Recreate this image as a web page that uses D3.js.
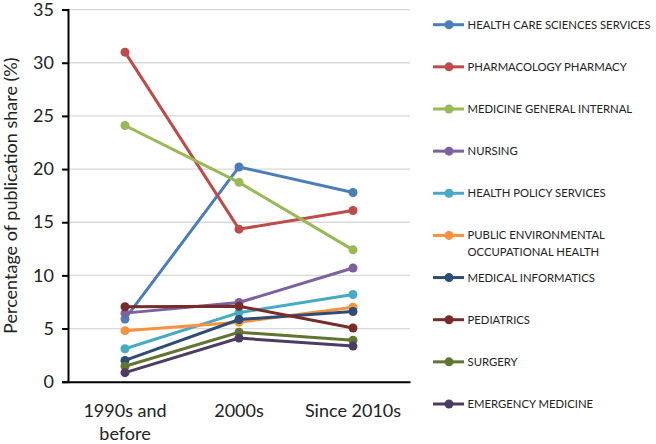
<!DOCTYPE html>
<html>
<head>
<meta charset="utf-8">
<script src="https://cdn.jsdelivr.net/npm/d3@7"></script>
<style>
  body { margin: 0; background: #fff; }
  svg { display: block; font-family: Lato, "Open Sans", sans-serif; }
</style>
</head>
<body>
<svg id="chart" width="656" height="444"></svg>
<script>
// periods on the x axis
var periods = ['1990s and before', '2000s', 'Since 2010s'];

var fields = [
  'HEALTH CARE SCIENCES SERVICES',
  'PHARMACOLOGY PHARMACY',
  'MEDICINE GENERAL INTERNAL',
  'NURSING',
  'HEALTH POLICY SERVICES',
  'PUBLIC ENVIRONMENTAL OCCUPATIONAL HEALTH',
  'MEDICAL INFORMATICS',
  'PEDIATRICS',
  'SURGERY',
  'EMERGENCY MEDICINE'
];

// share (%) per period, same order as fields
var healthCare = [5.9, 20.2, 17.8];
var pharmacology = [31.0, 14.35, 16.1];
var medicineGeneral = [24.1, 18.75, 12.4];
var nursing = [6.45, 7.45, 10.7];
var healthPolicy = [3.1, 6.5, 8.2];
var publicHealth = [4.8, 5.6, 7.0];
var medInformatics = [2.0, 5.85, 6.6];
var pediatrics = [7.05, 7.1, 5.05];
var surgery = [1.45, 4.65, 3.9];
var emergency = [0.85, 4.1, 3.35];

var yTicks = [0, 5, 10, 15, 20, 25, 30, 35];

var palette = ['#4a7ebb', '#be4b48', '#98b954', '#7d60a0', '#46aac5',
               '#f69240', '#2c4d75', '#772c2a', '#5f7530', '#4d3b62'];

var seriesValues = [healthCare, pharmacology, medicineGeneral, nursing, healthPolicy,
                    publicHealth, medInformatics, pediatrics, surgery, emergency];

var series = fields.map(function(name, i) {
  return {name: name, color: palette[i], values: seriesValues[i]};
});

var svg = d3.select('#chart');
var plotLeft = 68, plotRight = 410, plotTop = 9.6, plotBottom = 381.7;

var x = d3.scaleBand().domain(periods).range([plotLeft, plotRight]);
var y = d3.scaleLinear().domain([0, 35]).range([plotBottom, plotTop]);

// gridlines
svg.append('g')
  .selectAll('line')
  .data(yTicks.filter(function(d) { return d > 0; }))
  .enter()
  .append('line')
  .attr('x1', plotLeft)
  .attr('x2', plotRight)
  .attr('y1', function(d) { return y(d); })
  .attr('y2', function(d) { return y(d); })
  .style('stroke', '#d9d9d9')
  .style('stroke-width', 1.3);

// y axis
var yAxis = svg.append('g')
  .attr('transform', 'translate(' + plotLeft + ',0)')
  .call(d3.axisLeft(y).tickValues(yTicks).tickSize(6).tickPadding(8));
yAxis.select('.domain').style('stroke', '#000').style('stroke-width', 2);
yAxis.selectAll('.tick line').style('stroke', '#000').style('stroke-width', 2);
yAxis.selectAll('text')
  .style('font-size', '18px')
  .style('font-family', 'Lato, sans-serif')
  .style('fill', '#222');

// x axis
var xAxis = svg.append('g')
  .attr('transform', 'translate(0,' + plotBottom + ')')
  .call(d3.axisBottom(x).tickSize(0).tickFormat(''));
xAxis.select('.domain').style('stroke', '#000').style('stroke-width', 2);
xAxis.selectAll('.tick').each(function(d) {
  var t = d3.select(this).append('text')
    .attr('text-anchor', 'middle')
    .style('font-size', '18px')
    .style('font-family', 'Lato, sans-serif')
    .style('fill', '#222');
  var lines = d === '1990s and before' ? ['1990s and', 'before'] : [d];
  lines.forEach(function(s, k) {
    t.append('tspan').attr('x', 0).attr('y', 35 + k * 23).text(s);
  });
});

// y title
svg.append('text')
  .attr('transform', 'translate(17,' + (plotTop + plotBottom) / 2 + ') rotate(-90)')
  .attr('text-anchor', 'middle')
  .style('font-size', '18px')
  .style('fill', '#222')
  .text('Percentage of publication share (%)');

// lines and markers
var line = d3.line()
  .x(function(d, i) { return x(periods[i]) + x.bandwidth() / 2; })
  .y(function(d) { return y(d); });

var groups = svg.append('g')
  .selectAll('g.series')
  .data(series)
  .enter()
  .append('g')
  .attr('class', 'series');

groups.append('path')
  .attr('d', function(d) { return line(d.values); })
  .style('fill', 'none')
  .style('stroke', function(d) { return d.color; })
  .style('stroke-width', 3);

groups.selectAll('circle')
  .data(function(d) { return d.values.map(function(v, i) { return {v: v, i: i, color: d.color}; }); })
  .enter()
  .append('circle')
  .attr('cx', function(d) { return x(periods[d.i]) + x.bandwidth() / 2; })
  .attr('cy', function(d) { return y(d.v); })
  .attr('r', 4.5)
  .style('fill', function(d) { return d.color; });

// legend
var ly = d3.scalePoint().domain(fields).range([24.7, 404]);
var legend = svg.append('g')
  .selectAll('g.legend')
  .data(series)
  .enter()
  .append('g')
  .attr('class', 'legend')
  .attr('transform', function(d) { return 'translate(0,' + ly(d.name) + ')'; });

legend.append('line')
  .attr('x1', 433).attr('x2', 464)
  .style('stroke', function(d) { return d.color; })
  .style('stroke-width', 3);
legend.append('circle')
  .attr('cx', 449).attr('r', 4.5)
  .style('fill', function(d) { return d.color; });
legend.append('text')
  .attr('x', 467.5)
  .style('font-size', '11.3px')
  .style('fill', '#222')
  .each(function(d) {
    var t = d3.select(this);
    var lines = d.name === 'PUBLIC ENVIRONMENTAL OCCUPATIONAL HEALTH'
      ? ['PUBLIC ENVIRONMENTAL', 'OCCUPATIONAL HEALTH'] : [d.name];
    lines.forEach(function(s, k) {
      t.append('tspan').attr('x', 467.5).attr('y', 4 + k * 16.7).text(s);
    });
  });
</script>
</body>
</html>
